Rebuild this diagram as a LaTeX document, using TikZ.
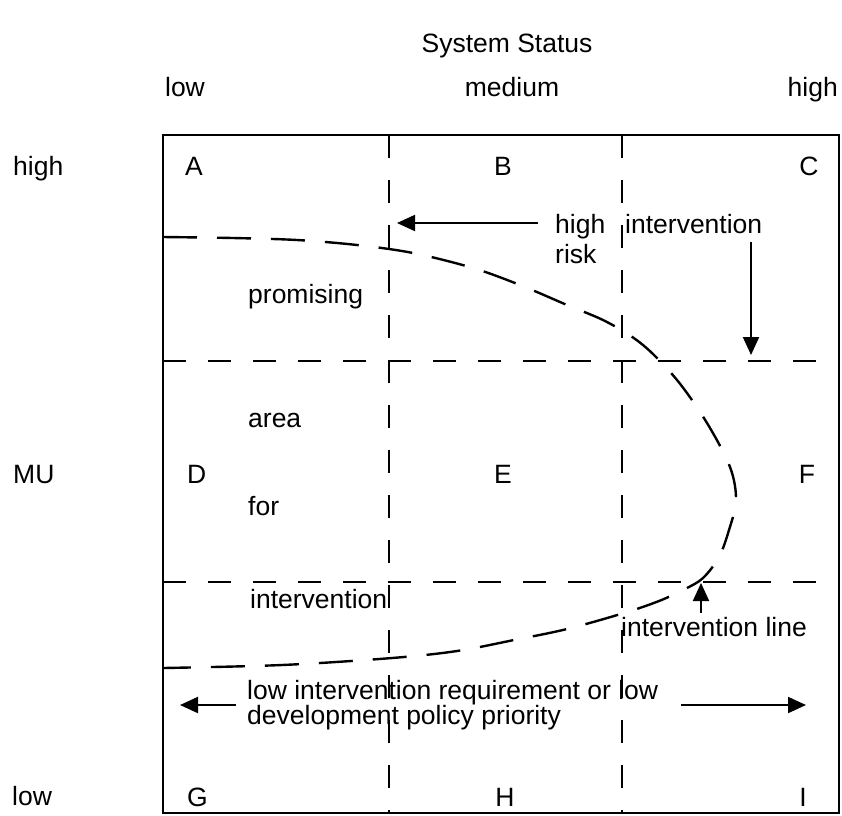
\documentclass[tikz,border=0pt]{standalone}
\usepackage{fontspec}
\setmainfont{Liberation Sans}
\usetikzlibrary{arrows.meta}
\begin{document}
\begin{tikzpicture}[x=1pt,y=-1pt,
  txt/.style={inner sep=0pt, font=\fontsize{26.5}{28}\selectfont},
  frame/.style={line width=2pt},
  gridline/.style={line width=2pt, dash pattern=on 23pt off 22pt},
  bound/.style={line width=2.4pt, dash pattern=on 34pt off 20pt},
  pointer/.style={line width=2pt, -{Triangle[length=18pt,width=16pt]}}
]
% canvas
\fill[white] (0,0) rectangle (842,815);
\useasboundingbox (0,0) rectangle (842,815);

% axis headings
\node[txt, anchor=base] (title) at (507,52) {System Status};
\node[txt, anchor=base] (slow) at (185,96) {low};
\node[txt, anchor=base] (smed) at (512,96) {medium};
\node[txt, anchor=base east] (shigh) at (838,96) {high};
\node[txt, anchor=base west] (mhigh) at (13,175) {high};
\node[txt, anchor=base west] (mmu) at (13,483) {MU};
\node[txt, anchor=base west] (mlow) at (12,805) {low};

% outer frame and grid
\draw[frame] (163,135) rectangle (839,813);
\draw[gridline] (389,135) -- (389,813);
\draw[gridline] (622,135) -- (622,813);
\draw[gridline] (163,361) -- (839,361);
\draw[gridline] (163,582) -- (839,582);

% cell letters
\node[txt, anchor=base west] (A) at (185,175) {A};
\node[txt, anchor=base] (B) at (503,175) {B};
\node[txt, anchor=base] (C) at (809,175) {C};
\node[txt, anchor=base west] (D) at (187,483) {D};
\node[txt, anchor=base] (E) at (503,483) {E};
\node[txt, anchor=base] (F) at (807,483) {F};
\node[txt, anchor=base west] (G) at (187,806) {G};
\node[txt, anchor=base] (H) at (505,806) {H};
\node[txt, anchor=base] (I) at (803,806) {I};

% intervention boundary
\draw[bound] plot[smooth, tension=0.55] coordinates {
  (163,237) (233,238) (297,240) (357,245) (413,253) (473,268) (520,285)
  (567,305) (607,322) (643,345) (677,380) (707,423) (730,467) (736,500)
  (729,530) (719,557) (703,578) (685,589) (659,601) (624,613) (567,629)
  (514,640) (457,651) (392,658) (282,665) (163,668)};

% labels inside the chart
\node[txt, anchor=base west] (prom) at (248,303) {promising};
\node[txt, anchor=base west] (area) at (248,427) {area};
\node[txt, anchor=base west] (for) at (248,515) {for};
\node[txt, anchor=base west] (intv) at (250,608) {intervention};
\node[txt, anchor=base west] (hi) at (555,233) {high};
\node[txt, anchor=base west] (risk) at (555,263) {risk};
\node[txt, anchor=base west] (intr) at (625,233) {intervention};
\node[txt, anchor=base west] (iline) at (621,636) {intervention line};
\node[txt, anchor=base west] (low1) at (247,699) {low intervention requirement or low};
\node[txt, anchor=base west] (low2) at (247,724) {development policy priority};

% arrow ends
\coordinate (riskTail) at (538,223);
\coordinate (riskTip) at (397,223);
\coordinate (intTail) at (751,242);
\coordinate (intTip) at (751,355);
\coordinate (lineTail) at (701,613);
\coordinate (lineTip) at (701,583);
\coordinate (leftTail) at (236,705);
\coordinate (leftTip) at (180,705);
\coordinate (rightTail) at (681,705);
\coordinate (rightTip) at (806,705);

\draw[pointer] (riskTail) -- (riskTip);
\draw[pointer] (intTail) -- (intTip);
\draw[pointer] (lineTail) -- (lineTip);
\draw[pointer] (leftTail) -- (leftTip);
\draw[pointer] (rightTail) -- (rightTip);
\end{tikzpicture}
\end{document}
